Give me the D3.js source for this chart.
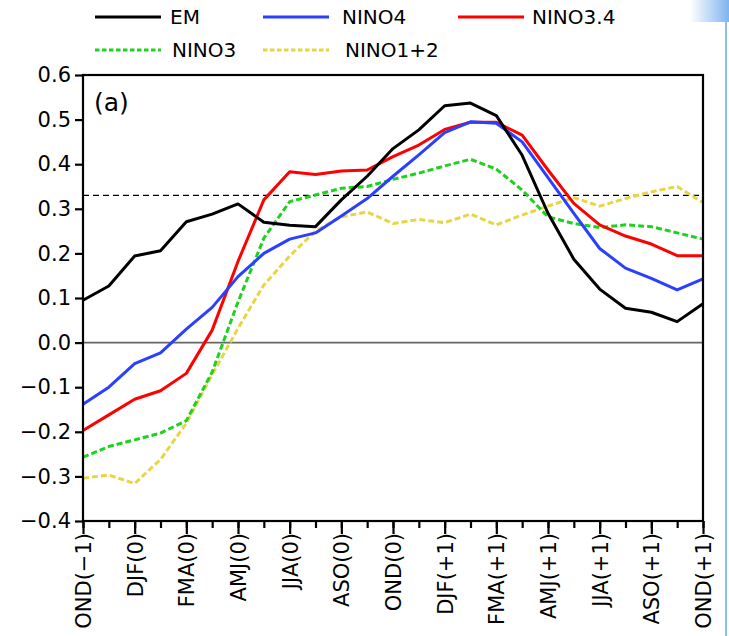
<!DOCTYPE html>
<html>
<head>
<meta charset="utf-8">
<script src="https://cdn.jsdelivr.net/npm/d3@7"></script>
<style>
  html, body { margin: 0; padding: 0; background: #fff; }
  svg { display: block; }
  text { font-family: "DejaVu Sans", "Liberation Sans", sans-serif; fill: #000; }
</style>
</head>
<body>
<svg id="chart" width="729" height="636"></svg>
<script>
// ---- data ----
const categories = ["OND(−1)","NDJ(0)","DJF(0)","JFM(0)","FMA(0)","MAM(0)","AMJ(0)","MJJ(0)","JJA(0)","JAS(0)","ASO(0)","SON(0)","OND(0)",
  "NDJ(+1)","DJF(+1)","JFM(+1)","FMA(+1)","MAM(+1)","AMJ(+1)","MJJ(+1)","JJA(+1)","JAS(+1)","ASO(+1)","SON(+1)","OND(+1)"];
const tickLabels = ["OND(−1)","DJF(0)","FMA(0)","AMJ(0)","JJA(0)","ASO(0)","OND(0)","DJF(+1)","FMA(+1)","AMJ(+1)","JJA(+1)","ASO(+1)","OND(+1)"];
const yTicks = [-0.4,-0.3,-0.2,-0.1,0.0,0.1,0.2,0.3,0.4,0.5,0.6];
const threshold = 0.33;

const EM      = [0.095,0.127,0.194,0.206,0.271,0.288,0.311,0.270,0.263,0.260,0.320,0.373,0.435,0.477,0.531,0.537,0.509,0.420,0.290,0.187,0.120,0.077,0.068,0.047,0.087];
const NINO4   = [-0.138,-0.100,-0.047,-0.023,0.030,0.079,0.148,0.200,0.232,0.246,0.284,0.323,0.373,0.421,0.471,0.495,0.492,0.450,0.370,0.290,0.211,0.167,0.144,0.118,0.143];
const NINO34  = [-0.197,-0.162,-0.127,-0.108,-0.069,0.028,0.182,0.320,0.383,0.377,0.385,0.387,0.417,0.443,0.478,0.494,0.494,0.465,0.387,0.312,0.264,0.239,0.221,0.195,0.195];
const NINO3   = [-0.257,-0.233,-0.218,-0.203,-0.175,-0.066,0.091,0.234,0.316,0.331,0.346,0.350,0.366,0.380,0.396,0.411,0.389,0.342,0.282,0.267,0.258,0.264,0.260,0.246,0.232];
const NINO12  = [-0.304,-0.297,-0.316,-0.262,-0.181,-0.072,0.032,0.129,0.194,0.250,0.282,0.293,0.267,0.276,0.269,0.288,0.264,0.286,0.306,0.325,0.306,0.323,0.338,0.350,0.314];

const seriesNames = ["EM","NINO4","NINO3.4","NINO3","NINO1+2"];
const seriesValues = [EM, NINO4, NINO34, NINO3, NINO12];
const seriesColors = ["#000000","#2b3fff","#ff0000","#1fd11f","#e6d544"];
const seriesDash = [null, null, null, "6,3", "6,3"];

// ---- layout ----
const svg = d3.select("#chart");
const L = 83, R = 703, T = 75, B = 521;

const x = d3.scalePoint().domain(categories).range([L, R]);
const y = d3.scaleLinear().domain([-0.4, 0.6]).range([B, T]);

// decoration at right edge
const defs = svg.append("defs");
const g1 = defs.append("linearGradient").attr("id","blueg").attr("x1","0").attr("x2","1").attr("y1","0").attr("y2","0");
g1.append("stop").attr("offset","0").attr("stop-color","#ffffff");
g1.append("stop").attr("offset","1").attr("stop-color","#7fb4ee");
svg.append("rect").attr("x",690).attr("y",0).attr("width",39).attr("height",22).attr("fill","url(#blueg)");
svg.append("line").attr("x1",726).attr("x2",726).attr("y1",22).attr("y2",636).attr("stroke","#8fbff0").attr("stroke-width",2);

// zero line
svg.append("line").attr("x1",L).attr("x2",R).attr("y1",y(0)).attr("y2",y(0))
  .attr("stroke","#666").attr("stroke-width",1.6);

// threshold dashed
svg.append("line").attr("x1",L).attr("x2",R).attr("y1",y(threshold)).attr("y2",y(threshold))
  .attr("stroke","#000").attr("stroke-width",1.4).attr("stroke-dasharray","6,4");

// series lines
const line = d3.line().x((d,i)=>x(categories[i])).y(d=>y(d));
seriesValues.slice().reverse().forEach((vals, ri) => {
  const i = seriesValues.length - 1 - ri;
  svg.append("path").datum(vals).attr("d", line)
    .attr("fill","none").attr("stroke",seriesColors[i]).attr("stroke-width",3)
    .attr("stroke-linejoin","round")
    .attr("stroke-dasharray", seriesDash[i]);
});

// frame
svg.append("rect").attr("x",L).attr("y",T).attr("width",R-L).attr("height",B-T)
  .attr("fill","none").attr("stroke","#000").attr("stroke-width",2.2);

// y axis
const yAxis = d3.axisLeft(y).tickValues(yTicks).tickFormat(d3.format(".1f")).tickSize(8).tickPadding(4);
const ya = svg.append("g").attr("transform",`translate(${L},0)`).call(yAxis);
ya.select(".domain").remove();
ya.selectAll(".tick line").attr("stroke","#000").attr("stroke-width",2.2);
ya.selectAll(".tick text").attr("font-size",21).attr("font-family","DejaVu Sans, sans-serif").attr("fill","#000");

// x axis: minor ticks on every category, major with labels
const xMinor = d3.axisBottom(x).tickValues(categories).tickSize(7).tickFormat("");
const xm = svg.append("g").attr("transform",`translate(0,${B})`).call(xMinor);
xm.select(".domain").remove();
xm.selectAll(".tick line").attr("stroke","#000").attr("stroke-width",2.2);

const xMajor = d3.axisBottom(x).tickValues(tickLabels).tickSize(13).tickFormat(d=>d);
const xa = svg.append("g").attr("transform",`translate(0,${B})`).call(xMajor);
xa.select(".domain").remove();
xa.selectAll(".tick line").attr("stroke","#000").attr("stroke-width",2.2);
xa.selectAll(".tick text")
  .attr("font-size",21).attr("font-family","DejaVu Sans, sans-serif").attr("fill","#000")
  .attr("transform","rotate(-90)")
  .attr("text-anchor","end")
  .attr("x",-12).attr("y",0).attr("dy","0.35em");

// panel label
svg.append("text").attr("x",94).attr("y",111).attr("font-size",25).text("(a)");

// legend
const legendPos = [
  {lx:95, ly:17, tx:170},
  {lx:263, ly:17, tx:342},
  {lx:458, ly:17, tx:532},
  {lx:95, ly:50, tx:172},
  {lx:263, ly:50, tx:345}
];
seriesNames.forEach((n,i)=>{
  const p = legendPos[i];
  svg.append("line").attr("x1",p.lx).attr("x2",p.lx+66).attr("y1",p.ly).attr("y2",p.ly)
    .attr("stroke",seriesColors[i]).attr("stroke-width",3).attr("stroke-dasharray",seriesDash[i] ? "4.5,2.5" : null);
  svg.append("text").attr("x",p.tx).attr("y",p.ly).attr("dy","0.36em").attr("font-size",20).text(n);
});
</script>
</body>
</html>
